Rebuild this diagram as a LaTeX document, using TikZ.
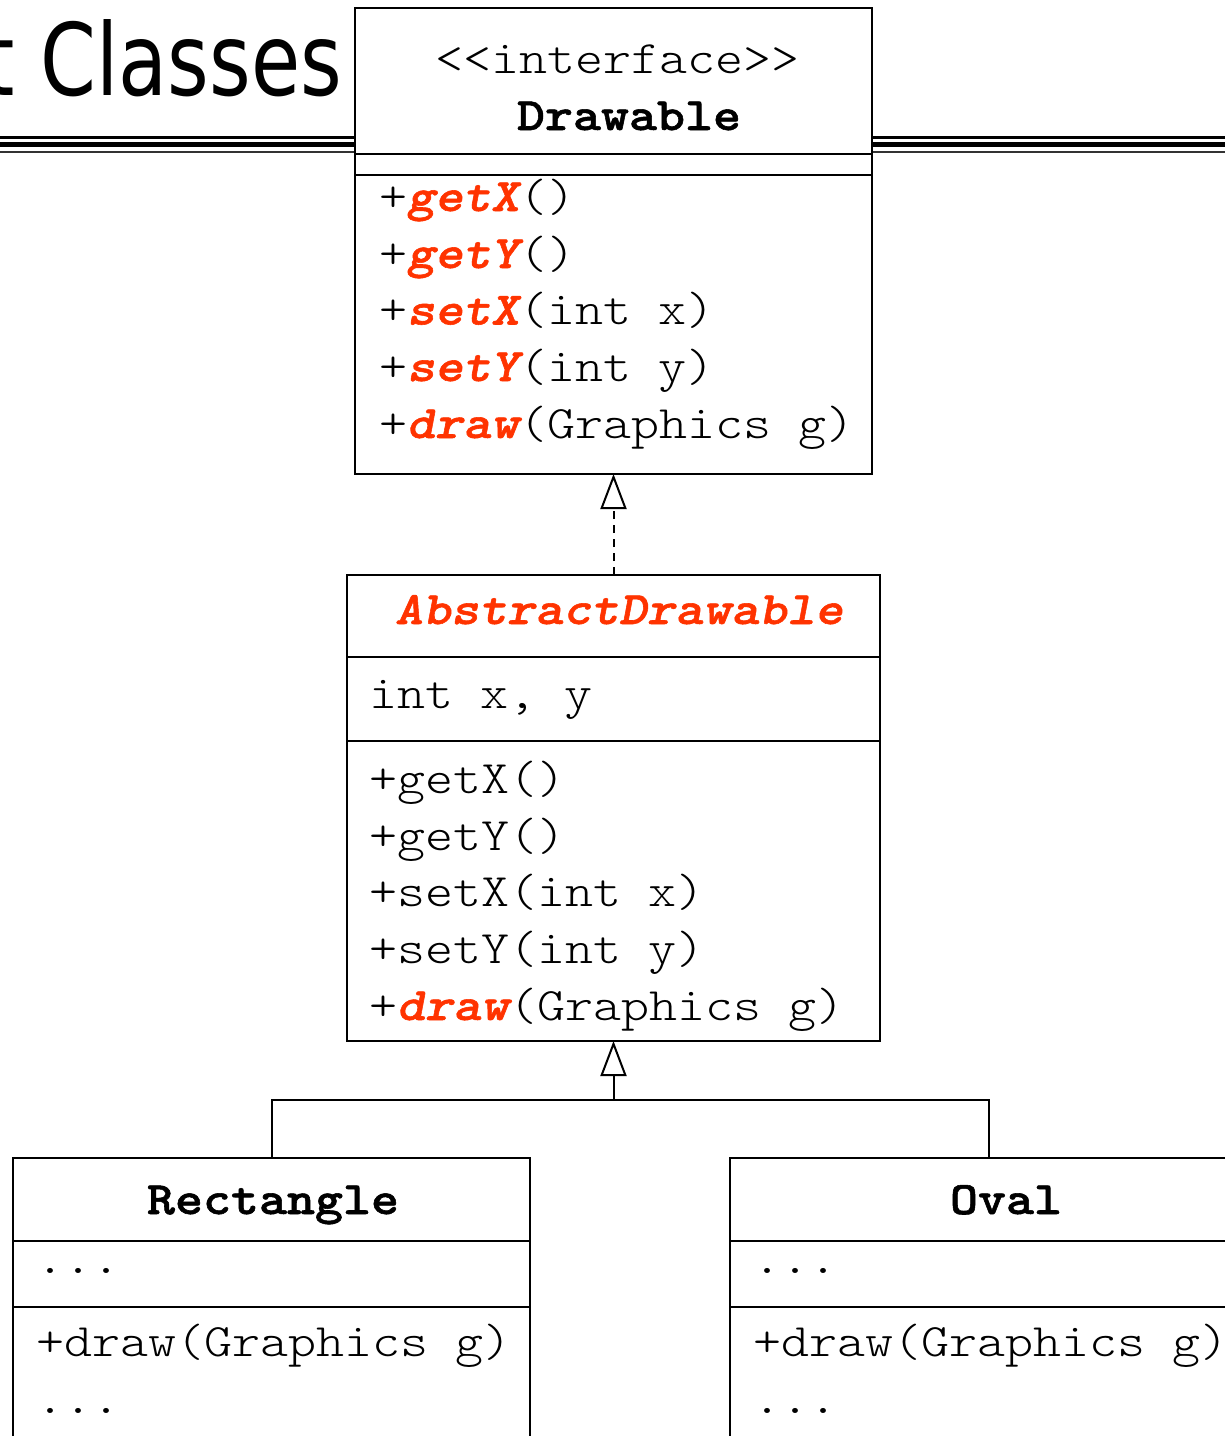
\documentclass[tikz,border=0pt]{standalone}
\usepackage{fontspec}
\setmonofont{lmmonolt10-regular}[Extension=.otf,
  BoldFont=lmmonolt10-bold, ItalicFont=lmmonolt10-oblique,
  BoldItalicFont=lmmonolt10-boldoblique, FakeStretch=1.147,
  BoldFeatures={FakeBold=1.2}, BoldItalicFeatures={FakeBold=1.2}]
\newfontfamily\titlefont[FakeStretch=0.8]{DejaVu Sans}
\usetikzlibrary{arrows.meta}
\definecolor{umlred}{HTML}{FF3300}
\newcommand\hl[1]{\textcolor{umlred}{\bfseries\itshape #1}}
\begin{document}
\begin{tikzpicture}[x=1pt,y=-1pt,
  every node/.style={inner sep=0pt,outer sep=0pt},
  classbox/.style={draw,line width=2pt,fill=white,anchor=north west},
  sep/.style={line width=2pt},
  txt/.style={anchor=base west,font=\fontsize{46.5}{56}\selectfont\ttfamily},
  realize/.style={line width=2pt,dash pattern=on 8pt off 6pt,
    -{Triangle[open,length=35pt,width=26pt]}},
  inherit/.style={line width=2pt,-{Triangle[open,length=35pt,width=26pt]}},
  link/.style={line width=2pt}]
\useasboundingbox (0,0) rectangle (1225,1436);

% slide title and rule
\node[anchor=base east,font=\titlefont\fontsize{100}{100}\selectfont] (title) at (342,95) {t Classes};
\foreach \xa/\xb in {0/355,872/1225}{
  \draw[line width=3pt] (\xa,137.5) -- (\xb,137.5);
  \draw[line width=5pt] (\xa,144.5) -- (\xb,144.5);
  \draw[line width=2pt,black!80] (\xa,152) -- (\xb,152);
}

% interface Drawable
\node[classbox,minimum width=517pt,minimum height=466pt] (drawable) at (355,8) {};
\draw[sep] (355,154) -- (872,154);
\draw[sep] (355,175) -- (872,175);
\node[txt] (dstereo) at (435,73) {<{}<interface>{}>};
\node[txt] (dname) at (517,130) {\bfseries Drawable};
\node[txt] (dm1) at (379,211) {+\hl{getX}()};
\node[txt] (dm2) at (379,268) {+\hl{getY}()};
\node[txt] (dm3) at (379,324.5) {+\hl{setX}(int x)};
\node[txt] (dm4) at (379,381) {+\hl{setY}(int y)};
\node[txt] (dm5) at (379,438) {+\hl{draw}(Graphics g)};

% abstract class AbstractDrawable
\node[classbox,minimum width=533pt,minimum height=466pt] (abstract) at (347,575) {};
\draw[sep] (347,657) -- (880,657);
\draw[sep] (347,741) -- (880,741);
\node[txt] (aname) at (395,624) {\hl{AbstractDrawable}};
\node[txt] (aattr) at (369,708) {int x, y};
\node[txt] (am1) at (369,793) {+getX()};
\node[txt] (am2) at (369,850) {+getY()};
\node[txt] (am3) at (369,906.5) {+setX(int x)};
\node[txt] (am4) at (369,963) {+setY(int y)};
\node[txt] (am5) at (369,1020) {+\hl{draw}(Graphics g)};

% concrete classes
\node[classbox,minimum width=517pt,minimum height=320pt] (rect) at (13,1158) {};
\draw[sep] (13,1240.5) -- (530,1240.5);
\draw[sep] (13,1307) -- (530,1307);
\node[txt] (rname) at (147,1214) {\bfseries Rectangle};
\node[txt] (rattr) at (36,1273) {...};
\node[txt] (rm1) at (36,1356) {+draw(Graphics g)};
\node[txt] (rm2) at (36,1413) {...};

\node[classbox,minimum width=518pt,minimum height=320pt] (oval) at (730,1158) {};
\draw[sep] (730,1240.5) -- (1248,1240.5);
\draw[sep] (730,1307) -- (1248,1307);
\node[txt] (oname) at (950,1214) {\bfseries Oval};
\node[txt] (oattr) at (753,1273) {...};
\node[txt] (om1) at (753,1356) {+draw(Graphics g)};
\node[txt] (om2) at (753,1413) {...};

% relations
\draw[realize] (abstract.north) -- (drawable.south);
\coordinate (junction) at (613.5,1100);
\draw[inherit] (junction) -- (abstract.south);
\draw[link] (rect.north) |- (junction) -| (oval.north);
\end{tikzpicture}
\end{document}
